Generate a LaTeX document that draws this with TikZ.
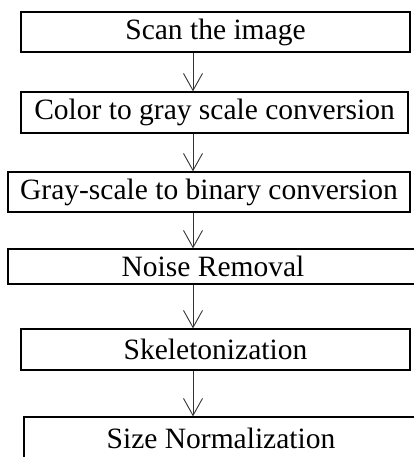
\documentclass[tikz,border=0pt]{standalone}
\usepackage{fontspec}
\setmainfont{Liberation Serif}
\usetikzlibrary{arrows.meta}
\begin{document}
\begin{tikzpicture}[x=1pt,y=-1pt]
		\tikzset{stage/.style = {shape=rectangle,draw,line width=1.3pt,inner sep=0pt,font=\fontsize{29.5}{31}\selectfont}}
		\tikzset{flow/.style = {-{Straight Barb[length=17pt,width=19pt,line width=0.9pt]},line width=0.9pt,draw=black!80}}

		\clip (0,0) rectangle (414,457);
		\useasboundingbox (0,0) rectangle (414,457);

		\node[stage,minimum width=389pt,minimum height=40pt] (scan) at (215.5,32) {Scan the image};
		\node[stage,minimum width=387pt,minimum height=41pt] (gray) at (214.5,112.5) {Color to gray scale conversion};
		\node[stage,minimum width=402pt,minimum height=40pt] (binary) at (209,192) {Gray-scale to binary conversion};
		\node[stage,minimum width=410pt,minimum height=35pt] (noise) at (213,266.5) {Noise Removal};
		\node[stage,minimum width=389pt,minimum height=41pt] (skel) at (215.5,349.5) {Skeletonization};
		\node[stage,minimum width=394pt,minimum height=42pt] (size) at (221,438) {Size Normalization};

		\coordinate (axis) at (193,0);

		\draw[flow] (scan.south -| axis) -- (gray.north -| axis);
		\draw[flow] (gray.south -| axis) -- (binary.north -| axis);
		\draw[flow] (binary.south -| axis) -- (noise.north -| axis);
		\draw[flow] (noise.south -| axis) -- (skel.north -| axis);
		\draw[flow] (skel.south -| axis) -- (size.north -| axis);

	\end{tikzpicture}
\end{document}
